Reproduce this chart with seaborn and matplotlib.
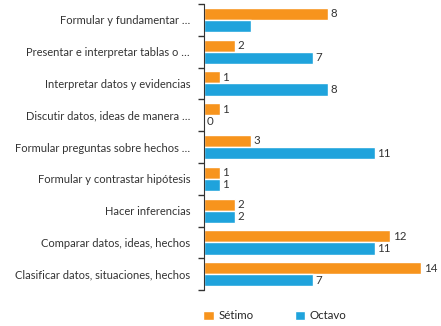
import seaborn as sns
from matplotlib import pyplot as plt
import pandas as pd

categories = [
    "Formular y fundamentar …",
    "Presentar e interpretar tablas o …",
    "Interpretar datos y evidencias",
    "Discutir datos, ideas de manera …",
    "Formular preguntas sobre hechos …",
    "Formular y contrastar hipótesis",
    "Hacer inferencias",
    "Comparar datos, ideas, hechos",
    "Clasificar datos, situaciones, hechos",
]
septimo = [8, 2, 1, 1, 3, 1, 2, 12, 14]
octavo = [3, 7, 8, 0, 11, 1, 2, 11, 7]
septimo_labels = ["8", "2", "1", "1", "3", "1", "2", "12", "14"]
octavo_labels = ["", "7", "8", "0", "11", "1", "2", "11", "7"]
series_names = ["Sétimo", "Octavo"]

df = pd.DataFrame({
    "categoria": categories * 2,
    "valor": septimo + octavo,
    "grado": [series_names[0]] * len(categories) + [series_names[1]] * len(categories),
})

sns.set_style("white")
plt.rcParams['font.family'] = ['Lato', 'DejaVu Sans']

fig = plt.figure(figsize=(4.41, 3.26), dpi=100)
ax = fig.add_axes([0.4626, 0.11, 0.503, 0.878])

sns.barplot(
    data=df, y="categoria", x="valor", hue="grado",
    palette=["#F7941D", "#1FA3DC"], width=0.76, ax=ax,
    saturation=1, orient="h",
)

for cont, labs in zip(ax.containers, [septimo_labels, octavo_labels]):
    ax.bar_label(cont, labels=labs, padding=2, fontsize=8.3, color="#333333")

ax.set_xlim(0, 14.3)
ax.set_ylim(len(categories) - 0.5, -0.5)
ax.set_xlabel("")
ax.set_ylabel("")
ax.set_xticks([])
ax.set_yticks([i - 0.5 for i in range(len(categories) + 1)], minor=False)
ax.set_yticklabels([])
ax.set_yticks(range(len(categories)), minor=True)
ax.set_yticklabels(categories, minor=True, fontsize=8.0, color="#333333")
ax.tick_params(axis="y", which="major", length=4, width=1, left=True, color="#333333")
ax.tick_params(axis="y", which="minor", length=0, pad=10)
for s in ["top", "right", "bottom"]:
    ax.spines[s].set_visible(False)
ax.spines["left"].set_color("#333333")

ax.legend(
    loc="center", bbox_to_anchor=(0.32, -0.09), ncol=2, frameon=False,
    fontsize=8.3, handlelength=0.9, handleheight=0.9, handletextpad=0.4,
    columnspacing=3.6,
)

fig.savefig("out.png", dpi=100)
